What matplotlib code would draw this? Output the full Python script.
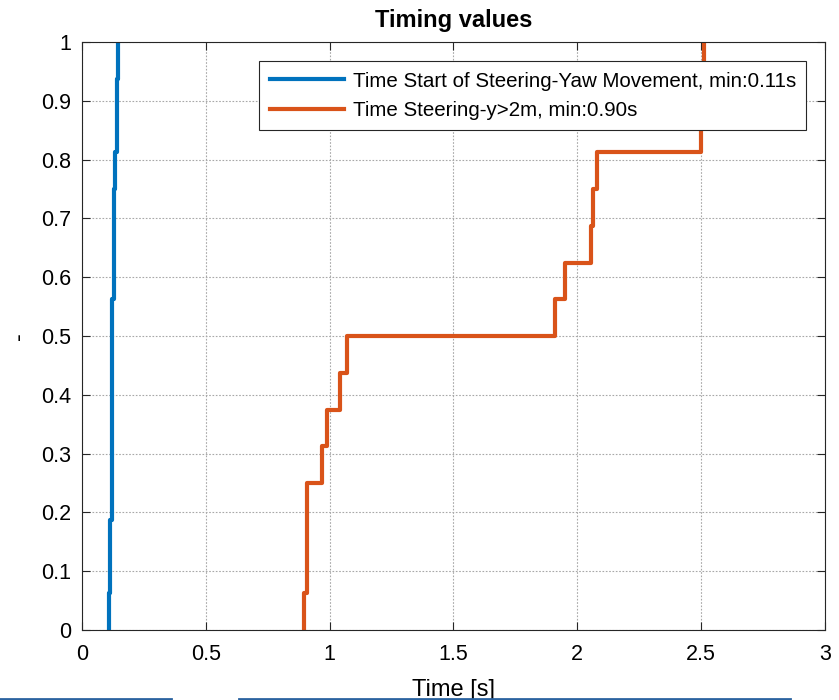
'''
Timing values - ECDF of steering timings
'''

import numpy as np
import matplotlib
matplotlib.use('Agg')
import matplotlib.pyplot as plt
from matplotlib.lines import Line2D

# Data
T_YAW = [0.110, 0.114, 0.114, 0.120, 0.120, 0.120, 0.120, 0.120, 0.120,
         0.128, 0.128, 0.128, 0.135, 0.140, 0.142, 0.145]
T_Y2M = [0.896, 0.907, 0.907, 0.907, 0.970, 0.988, 1.042, 1.072,
         1.910, 1.952, 2.055, 2.064, 2.078, 2.499, 2.505, 2.511]
NAMES = ['Time Start of Steering-Yaw Movement', 'Time Steering-y>2m']
COLORS = ['#0072BD', '#D95319']
XTICKS = [0, 0.5, 1, 1.5, 2, 2.5, 3]
XTICKLABELS = ['0', '0.5', '1', '1.5', '2', '2.5', '3']
YTICKS = [0, 0.1, 0.2, 0.3, 0.4, 0.5, 0.6, 0.7, 0.8, 0.9, 1]
YTICKLABELS = ['0', '0.1', '0.2', '0.3', '0.4', '0.5', '0.6', '0.7', '0.8', '0.9', '1']

plt.rcParams['font.family'] = ['Liberation Sans', 'DejaVu Sans']


def StairsECDF(values):
    x = np.sort(np.array(values))
    n = len(x)
    xs = np.concatenate([[x[0]], x])
    ys = np.concatenate([[0.0], np.arange(1, n + 1) / n])
    return xs, ys


fig = plt.figure(figsize=(8.39, 7.0), dpi=100)
ax = fig.add_axes([0.0977, 0.1, 0.8856, 0.84])

for vals, name, col in zip([T_YAW, T_Y2M], NAMES, COLORS):
    xs, ys = StairsECDF(vals)
    ax.step(xs, ys, where='post', color=col, lw=3,
            label='%s, min:%.2fs' % (name, min(vals)))

ax.set_xlim(0, 3)
ax.set_ylim(0, 1)
ax.set_xticks(XTICKS)
ax.set_xticklabels(XTICKLABELS)
ax.set_yticks(YTICKS)
ax.set_yticklabels(YTICKLABELS)
ax.tick_params(direction='in', length=6, labelsize=15.5, top=True, right=True,
               color='#262626')
ax.tick_params(axis='x', pad=10)
ax.tick_params(axis='y', pad=8)
ax.grid(True, color='#a8a8a8', linestyle=(0, (1.5, 1.5)), lw=0.8)
for s in ax.spines.values():
    s.set_color('#262626')

ax.set_title('Timing values', fontsize=17, fontweight='bold', pad=11)
ax.set_xlabel('Time [s]', fontsize=17, labelpad=10)
ax.set_ylabel('-', fontsize=17, labelpad=8)

leg = ax.legend(loc='upper right', bbox_to_anchor=(0.975, 0.967),
                fontsize=14.8, fancybox=False, framealpha=1,
                edgecolor='#262626', handlelength=3.6, handletextpad=0.45,
                borderaxespad=0, labelspacing=0.5, borderpad=0.5)
leg.get_frame().set_linewidth(0.8)

# Cut-off blue strips along the bottom edge of the figure
fig.add_artist(Line2D([0, 171 / 839], [0.002, 0.002], color='#2b63a0', lw=2,
                      transform=fig.transFigure))
fig.add_artist(Line2D([239 / 839, 790 / 839], [0.002, 0.002], color='#2b63a0',
                      lw=2, transform=fig.transFigure))

fig.savefig('out.png', dpi=100)
